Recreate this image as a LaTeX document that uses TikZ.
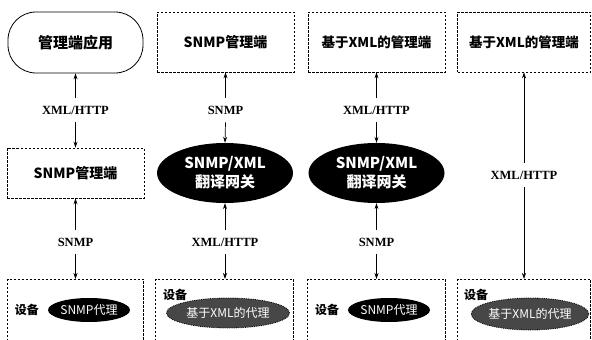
\documentclass[tikz,border=0pt]{standalone}
\usepackage{fontspec}
\setmainfont{Liberation Serif}
\newfontfamily\cjk{Noto Sans CJK SC}
\usetikzlibrary{shapes.geometric,arrows.meta}
\tikzset{
  box/.style={draw, dash pattern=on 2.5pt off 1.5pt, line width=0.6pt, minimum width=137pt, minimum height=60pt, inner sep=0pt, font=\cjk\bfseries\fontsize{14}{16}\selectfont},
  pill/.style={draw, line width=0.8pt, rounded corners=28pt, minimum width=135pt, minimum height=61pt, inner sep=0pt, font=\cjk\bfseries\fontsize{15}{17}\selectfont},
  gw/.style={ellipse, fill=black, text=white, minimum width=136pt, minimum height=60pt, inner sep=0pt, align=center, font=\cjk\bfseries\fontsize{15}{19}\selectfont},
  agent/.style={ellipse, fill=black, text=white, minimum width=82pt, minimum height=24pt, inner sep=0pt, font=\cjk\fontsize{12}{14}\selectfont},
  xagent/.style={ellipse, fill=black!72, draw=black, line width=0.8pt, densely dotted, text=white, minimum width=123pt, minimum height=30pt, inner sep=0pt, font=\cjk\fontsize{12}{14}\selectfont},
  dev/.style={inner sep=0pt, font=\cjk\bfseries\fontsize{12}{14}\selectfont},
  lbl/.style={inner xsep=2pt, inner ysep=8pt, font=\bfseries\fontsize{12.5}{14}\selectfont},
  arr/.style={-{Stealth[length=6pt,width=4pt]}, line width=0.7pt},
  openbox/.style={dash pattern=on 2.5pt off 1.5pt, line width=0.6pt}
}
\begin{document}
\begin{tikzpicture}[x=1pt,y=-1pt]
\useasboundingbox (0,0) rectangle (592,340);
% column 1
\node[pill] (app1) at (75.5,42.5) {管理端应用};
\node[lbl] (l1a) at (75.5,110) {XML/HTTP};
\node[box, minimum height=50pt] (m1) at (75.5,173) {SNMP管理端};
\node[lbl] (l1b) at (75.5,242) {SNMP};
\coordinate (d1) at (75.5,279);
\draw[openbox] (7.5,345) -- (7.5,279) -- (143.5,279) -- (143.5,345);
\node[dev] (dv1) at (27,310) {设备};
\node[agent] (ag1) at (89,310) {SNMP代理};
\draw[arr] (l1a.north) -- (app1.south);
\draw[arr] (l1a.south) -- (m1.north);
\draw[arr] (l1b.north) -- (m1.south);
\draw[arr] (l1b.south) -- (d1);
% column 2
\node[box] (m2) at (225.5,42) {SNMP管理端};
\node[lbl] (l2a) at (225.5,110) {SNMP};
\node[gw] (g2) at (225,173) {SNMP/XML\\翻译网关};
\node[lbl] (l2b) at (225,242) {XML/HTTP};
\coordinate (d2) at (225,279);
\draw[openbox] (155.5,345) -- (155.5,279) -- (293.5,279) -- (293.5,345);
\node[dev] (dv2) at (175,295) {设备};
\node[xagent] (ag2) at (228,313) {基于XML的代理};
\draw[arr] (l2a.north) -- (m2.south);
\draw[arr] (l2a.south) -- (g2.north);
\draw[arr] (l2b.north) -- (g2.south);
\draw[arr] (l2b.south) -- (d2);
% column 3
\node[box, font=\cjk\bfseries\fontsize{13.5}{16}\selectfont] (m3) at (376.5,42) {基于XML的管理端};
\node[lbl] (l3a) at (376.5,110) {XML/HTTP};
\node[gw] (g3) at (376.5,173) {SNMP/XML\\翻译网关};
\node[lbl] (l3b) at (376.5,242) {SNMP};
\coordinate (d3) at (376.5,279);
\draw[openbox] (307.5,345) -- (307.5,279) -- (445.5,279) -- (445.5,345);
\node[dev] (dv3) at (327,310) {设备};
\node[agent] (ag3) at (389,310) {SNMP代理};
\draw[arr] (l3a.north) -- (m3.south);
\draw[arr] (l3a.south) -- (g3.north);
\draw[arr] (l3b.north) -- (g3.south);
\draw[arr] (l3b.south) -- (d3);
% column 4
\node[box, minimum width=133pt, font=\cjk\bfseries\fontsize{13.5}{16}\selectfont] (m4) at (524,42) {基于XML的管理端};
\node[lbl] (l4) at (524,175) {XML/HTTP};
\coordinate (d4) at (524,279);
\draw[openbox] (457.5,345) -- (457.5,279) -- (590.5,279) -- (590.5,345);
\node[dev] (dv4) at (476,295) {设备};
\node[xagent, minimum width=116pt, minimum height=32pt] (ag4) at (530,314) {基于XML的代理};
\draw[arr] (l4.north) -- (m4.south);
\draw[arr] (l4.south) -- (d4);
\end{tikzpicture}
\end{document}
